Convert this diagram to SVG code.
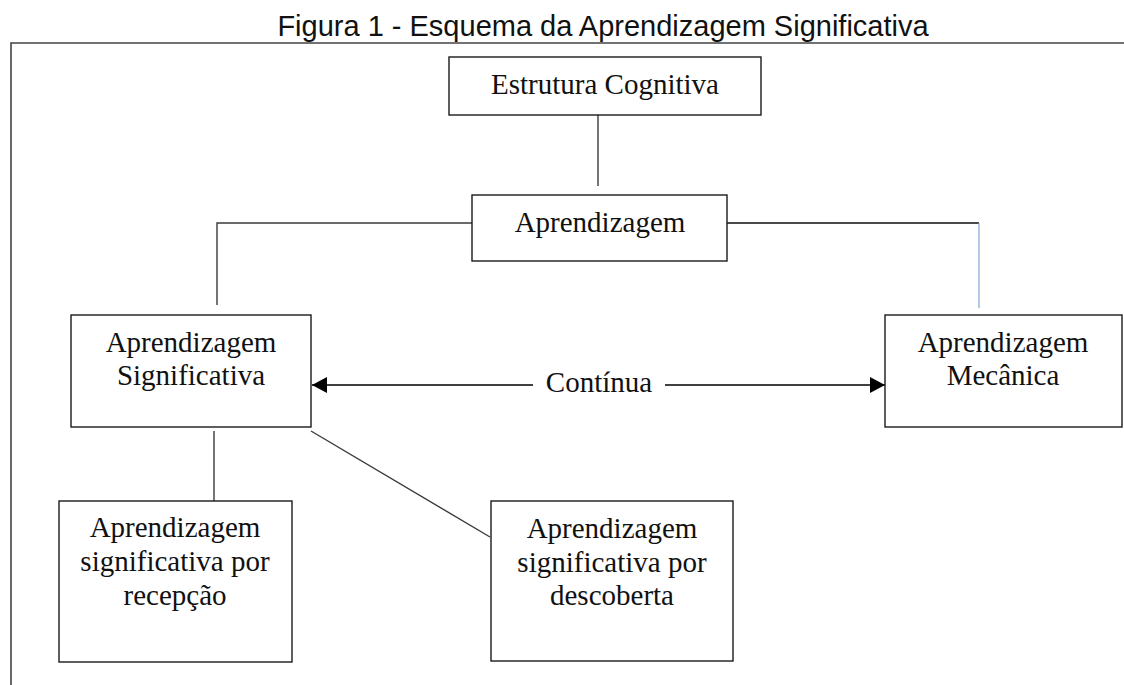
<svg xmlns="http://www.w3.org/2000/svg" width="1124" height="685" viewBox="0 0 1124 685">
  <style>
    .box { fill: #ffffff; stroke: #1a1a1a; stroke-width: 1.4; }
    .lbl { font-family: "Liberation Serif", "Times New Roman", serif; font-size: 29px; fill: #111; text-anchor: middle; }
    .title { font-family: "Liberation Sans", Arial, sans-serif; font-size: 29px; fill: #111; text-anchor: middle; }
    .ln { stroke: #3a3a3a; stroke-width: 1.4; fill: none; }
    .frame { stroke: #444; stroke-width: 1.6; fill: none; }
  </style>
  <defs>
    <marker id="arr" viewBox="0 0 15 16" refX="15" refY="8" markerWidth="15" markerHeight="16" markerUnits="userSpaceOnUse" orient="auto">
      <path d="M0,0 L15,8 L0,16 Z" fill="#000"/>
    </marker>
  </defs>
  <rect width="1124" height="685" fill="#ffffff"/>

  <text class="title" x="603" y="36">Figura 1 - Esquema da Aprendizagem Significativa</text>
  <path class="frame" d="M11,685 L11,43 L1124,43"/>

  <g id="connectors">
    <line class="ln" x1="598" y1="115" x2="598" y2="186"/>
    <polyline class="ln" points="472,223 217,223 217,305"/>
    <line x1="727" y1="223" x2="979" y2="223" stroke="#4a4a4a" stroke-width="2"/>
    <line x1="979" y1="223" x2="979" y2="308" stroke="#7aa7d6" stroke-width="1.2"/>
    <line x1="533" y1="385" x2="312" y2="385" stroke="#000" stroke-width="1.4" marker-end="url(#arr)"/>
    <line x1="665" y1="385" x2="885" y2="385" stroke="#000" stroke-width="1.4" marker-end="url(#arr)"/>
    <text class="lbl" x="599" y="392">Contínua</text>
    <line class="ln" x1="214" y1="431" x2="214" y2="501"/>
    <line class="ln" x1="311" y1="431" x2="490" y2="537"/>
  </g>

  <g id="estrutura">
    <rect class="box" x="449" y="57" width="312" height="58"/>
    <text class="lbl" x="605" y="94">Estrutura Cognitiva</text>
  </g>

  <g id="aprendizagem">
    <rect class="box" x="472" y="195" width="255" height="66"/>
    <text class="lbl" x="600" y="232">Aprendizagem</text>
  </g>

  <g id="significativa">
    <rect class="box" x="71" y="315" width="240" height="112"/>
    <text class="lbl" x="191" y="352">Aprendizagem</text>
    <text class="lbl" x="191" y="385">Significativa</text>
  </g>

  <g id="mecanica">
    <rect class="box" x="885" y="315" width="237" height="112"/>
    <text class="lbl" x="1003" y="352">Aprendizagem</text>
    <text class="lbl" x="1003" y="385">Mecânica</text>
  </g>

  <g id="recepcao">
    <rect class="box" x="59" y="501" width="233" height="161"/>
    <text class="lbl" x="175" y="537">Aprendizagem</text>
    <text class="lbl" x="175" y="571">significativa por</text>
    <text class="lbl" x="175" y="605">recepção</text>
  </g>

  <g id="descoberta">
    <rect class="box" x="491" y="501" width="242" height="160"/>
    <text class="lbl" x="612" y="538">Aprendizagem</text>
    <text class="lbl" x="612" y="572">significativa por</text>
    <text class="lbl" x="612" y="605">descoberta</text>
  </g>
</svg>
